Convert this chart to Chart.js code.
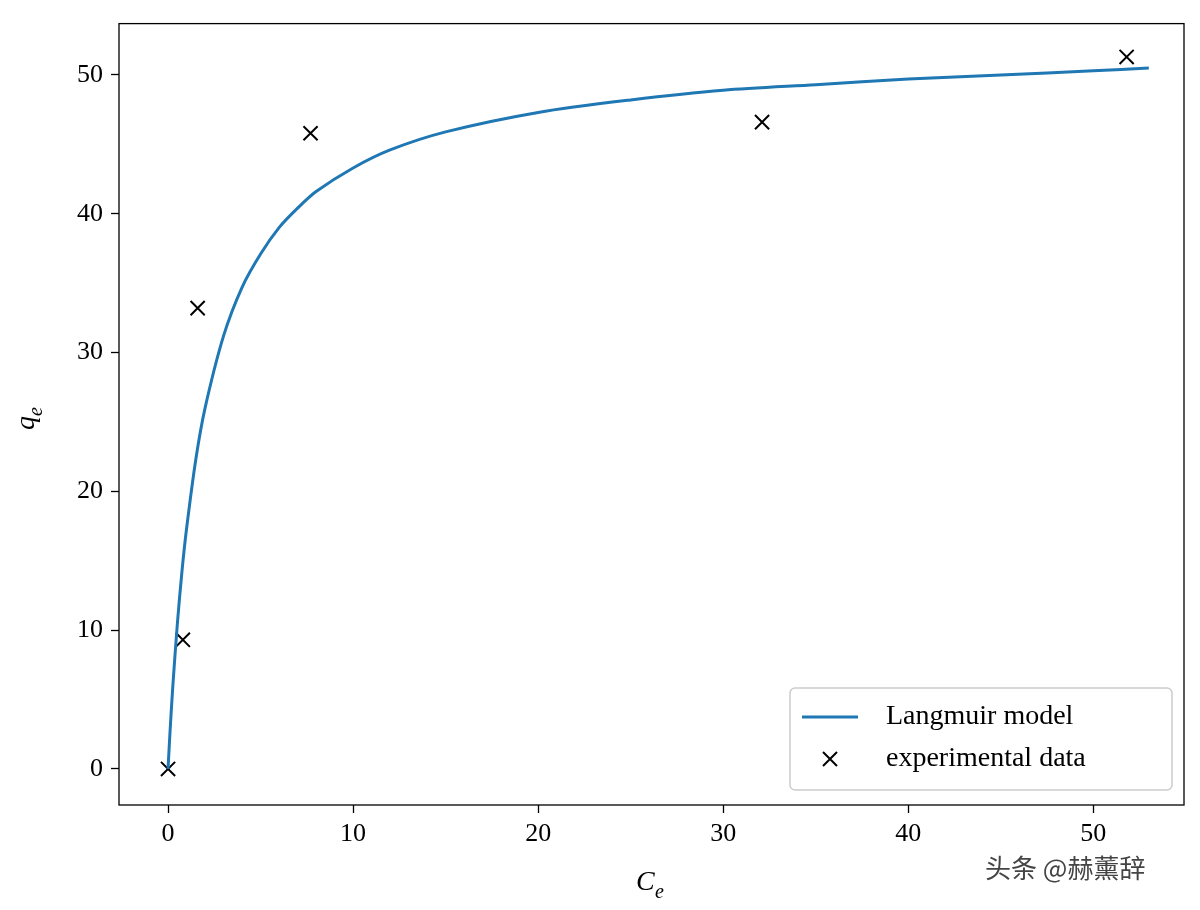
<!DOCTYPE html>
<html>
<head>
<meta charset="utf-8">
<script src="https://cdn.jsdelivr.net/npm/chart.js@4"></script>
<style>
  body { margin: 0; background: #fff; }
  #wrap { width: 1200px; height: 910px; }
</style>
</head>
<body>
<div id="wrap"><canvas id="c"></canvas></div>
<script>
// Langmuir curve
var modelX = [0, 0.1, 0.25, 0.5, 0.75, 1, 1.5, 2, 3, 4, 5, 6, 7, 8, 10, 12, 15, 20, 25, 30, 35, 40, 45, 50, 53];
var modelY = [0, 2.5, 5.8, 10.4, 14.2, 17.3, 22.3, 26, 31.2, 34.7, 37.1, 39, 40.4, 41.6, 43.3, 44.6, 45.9, 47.3, 48.2, 48.9, 49.3, 49.7, 50, 50.3, 50.5];
// experimental points
var expX = [0, 0.8, 1.6, 7.7, 32.1, 51.8];
var expY = [0, 9.3, 33.2, 45.8, 46.6, 51.3];
var tickVals = [0, 10, 20, 30, 40, 50];

var serif = "'Liberation Serif', 'DejaVu Serif', serif";

function pts(xs, ys) {
  var out = [];
  for (var i = 0; i < xs.length; i++) out.push({x: xs[i], y: ys[i]});
  return out;
}

var extras = {
  id: 'extras',
  afterDraw: function(chart) {
    var ctx = chart.ctx, a = chart.chartArea;
    ctx.save();
    ctx.strokeStyle = '#000';
    ctx.lineWidth = 1.3;
    ctx.strokeRect(a.left, a.top, a.right - a.left, a.bottom - a.top);

    // axis titles with subscripts
    ctx.fillStyle = '#000';
    ctx.font = 'italic 28px ' + serif;
    ctx.textBaseline = 'alphabetic';
    ctx.fillText('C', 636, 890);
    ctx.font = 'italic 20px ' + serif;
    ctx.fillText('e', 655, 898);
    ctx.translate(34, 430);
    ctx.rotate(-Math.PI / 2);
    ctx.font = 'italic 28px ' + serif;
    ctx.fillText('q', 0, 0);
    ctx.font = 'italic 20px ' + serif;
    ctx.fillText('e', 14, 8);
    ctx.setTransform(1, 0, 0, 1, 0, 0);
    var dpr = chart.currentDevicePixelRatio;
    ctx.scale(dpr, dpr);

    // legend
    ctx.fillStyle = '#fff';
    ctx.strokeStyle = '#ccc';
    ctx.lineWidth = 1.5;
    ctx.beginPath();
    ctx.roundRect(790, 688, 382, 102, 5);
    ctx.fill(); ctx.stroke();
    ctx.strokeStyle = '#1f77b4';
    ctx.lineWidth = 3;
    ctx.beginPath(); ctx.moveTo(802, 717); ctx.lineTo(858, 717); ctx.stroke();
    ctx.strokeStyle = '#000';
    ctx.lineWidth = 2;
    ctx.beginPath();
    ctx.moveTo(823, 752); ctx.lineTo(837, 766);
    ctx.moveTo(837, 752); ctx.lineTo(823, 766);
    ctx.stroke();
    ctx.fillStyle = '#000';
    ctx.font = '28px ' + serif;
    ctx.textBaseline = 'middle';
    ctx.fillText(chart.data.datasets[0].label, 886, 717);
    ctx.fillText(chart.data.datasets[1].label, 886, 759);

    // watermark
    ctx.font = '26px "Noto Sans CJK SC"';
    ctx.fillStyle = '#444';
    ctx.fillText('头条 @赫薰辞', 985, 868);
    ctx.restore();
  }
};

new Chart(document.getElementById('c'), {
  type: 'scatter',
  data: {
    datasets: [{
      label: 'Langmuir model',
      type: 'line',
      data: pts(modelX, modelY),
      borderColor: '#1f77b4',
      borderWidth: 3,
      pointRadius: 0,
      tension: 0.3,
      fill: false
    }, {
      label: 'experimental data',
      data: pts(expX, expY),
      pointStyle: 'cross',
      rotation: 45,
      radius: 10,
      borderColor: '#000',
      borderWidth: 2
    }]
  },
  options: {
    responsive: true,
    maintainAspectRatio: false,
    animation: false,
    layout: { padding: { top: 5, right: 16, left: 0, bottom: 0 } },
    plugins: { legend: { display: false }, tooltip: { enabled: false } },
    scales: {
      x: {
        type: 'linear', min: -2.65, max: 54.9,
        afterBuildTicks: function(s) { s.ticks = tickVals.map(function(v) { return {value: v}; }); },
        afterFit: function(s) { s.height = 105; },
        grid: { drawOnChartArea: false, tickLength: 8, color: '#000', tickWidth: 1.3 },
        border: { display: false },
        ticks: { color: '#000', font: { family: serif, size: 26 }, padding: 6, maxRotation: 0 }
      },
      y: {
        type: 'linear', min: -2.6, max: 53.7,
        afterBuildTicks: function(s) { s.ticks = tickVals.map(function(v) { return {value: v}; }); },
        afterFit: function(s) { s.width = 119; },
        grid: { drawOnChartArea: false, tickLength: 8, color: '#000', tickWidth: 1.3 },
        border: { display: false },
        ticks: { color: '#000', font: { family: serif, size: 26 }, padding: 8 }
      }
    }
  },
  plugins: [extras]
});
</script>
</body>
</html>
